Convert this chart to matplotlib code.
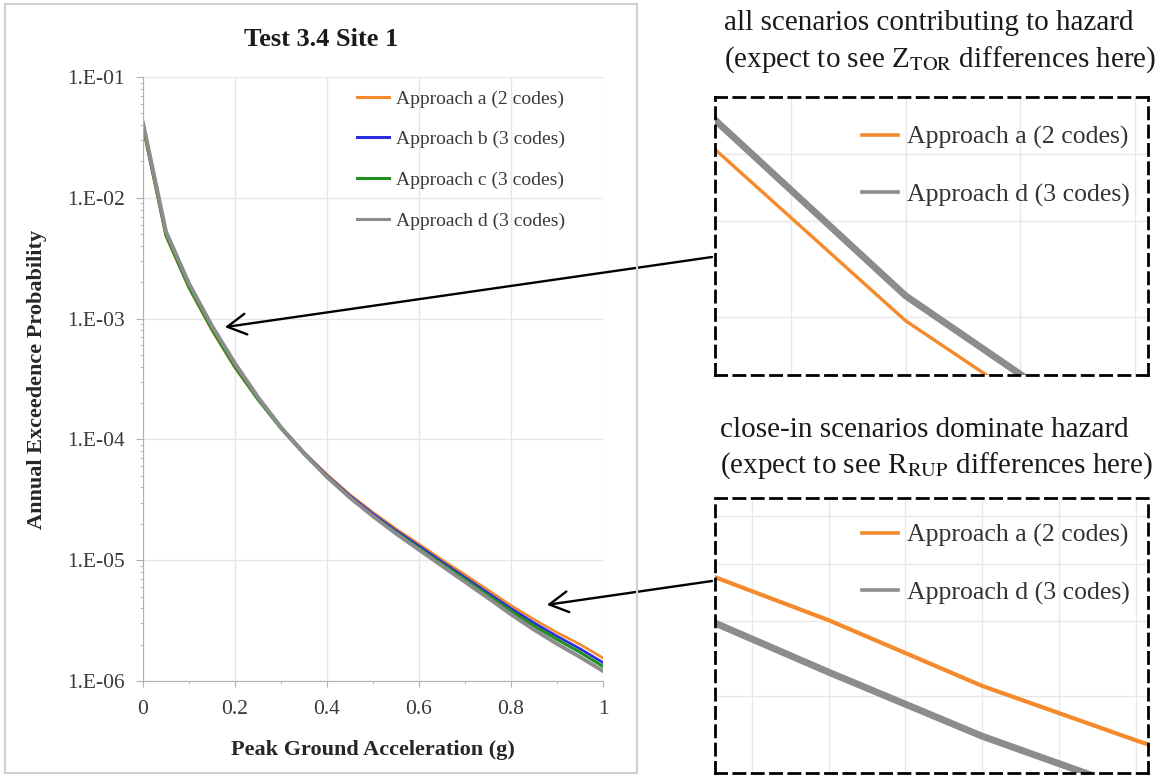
import matplotlib.pyplot as plt
import numpy as np
from matplotlib.patches import Rectangle
from matplotlib.ticker import LogLocator, MultipleLocator, NullFormatter

plt.rcParams['font.family'] = 'Liberation Serif'
plt.rcParams['mathtext.fontset'] = 'stix'

# hazard curves for Test 3.4 Site 1
pga = [0.0, 0.05, 0.1, 0.15, 0.2, 0.25, 0.3, 0.35, 0.4, 0.45, 0.5,
       0.55, 0.6, 0.65, 0.7, 0.75, 0.8, 0.85, 0.9, 0.95, 1.0]
approach_a = [3.80e-2, 4.78e-3, 1.78e-3, 7.95e-4, 3.89e-4, 2.14e-4, 1.26e-4,
              7.85e-5, 5.13e-5, 3.49e-5, 2.49e-5, 1.82e-5, 1.36e-5, 1.01e-5,
              7.59e-6, 5.66e-6, 4.22e-6, 3.23e-6, 2.52e-6, 2.01e-6, 1.55e-6]
approach_b = [3.94e-2, 4.96e-3, 1.84e-3, 8.23e-4, 4.03e-4, 2.17e-4, 1.26e-4,
              7.78e-5, 5.03e-5, 3.41e-5, 2.42e-5, 1.76e-5, 1.31e-5, 9.70e-6,
              7.21e-6, 5.36e-6, 3.99e-6, 3.03e-6, 2.35e-6, 1.85e-6, 1.42e-6]
approach_c = [3.89e-2, 4.89e-3, 1.82e-3, 8.13e-4, 3.98e-4, 2.14e-4, 1.23e-4,
              7.58e-5, 4.89e-5, 3.31e-5, 2.34e-5, 1.70e-5, 1.26e-5, 9.33e-6,
              6.92e-6, 5.13e-6, 3.80e-6, 2.86e-6, 2.21e-6, 1.73e-6, 1.32e-6]
approach_d = [4.17e-2, 5.25e-3, 1.95e-3, 8.71e-4, 4.26e-4, 2.24e-4, 1.26e-4,
              7.67e-5, 4.89e-5, 3.29e-5, 2.31e-5, 1.66e-5, 1.22e-5, 8.98e-6,
              6.61e-6, 4.87e-6, 3.56e-6, 2.66e-6, 2.03e-6, 1.58e-6, 1.21e-6]
labels = ['Approach a (2 codes)', 'Approach b (3 codes)',
          'Approach c (3 codes)', 'Approach d (3 codes)']
colors = ['#f58a2c', '#2b2be0', '#1f8f1f', '#8c8c8c']
widths = [1.9, 1.9, 2.2, 2.8]

y_ticks = [1e-6, 1e-5, 1e-4, 1e-3, 1e-2, 1e-1]
y_tick_labels = ['1.E-06', '1.E-05', '1.E-04', '1.E-03', '1.E-02', '1.E-01']
x_ticks = [0, 0.2, 0.4, 0.6, 0.8, 1.0]
x_tick_labels = ['0', '0.2', '0.4', '0.6', '0.8', '1']

# close-up of the upper part of the curves
top_pga = [0.15, 0.2, 0.25]
top_a = [9.46e-4, 3.93e-4, 2.04e-4]
top_d = [1.076e-3, 4.37e-4, 2.24e-4]
top_xgrid = [0.175, 0.2, 0.225, 0.25]
top_ygrid = [4e-4, 6e-4, 8e-4]

# close-up of the tail
tail_pga = [0.75, 0.8, 0.85, 0.9, 0.95]
tail_a = [5.03e-6, 4.02e-6, 3.12e-6, 2.53e-6, 2.08e-6]
tail_d = [4.25e-6, 3.29e-6, 2.57e-6, 2.08e-6, 1.70e-6]
tail_xgrid = [0.775, 0.8, 0.825, 0.85, 0.875, 0.9]
tail_ygrid = [3e-6, 4e-6, 5e-6, 6e-6]

W, H = 1159, 776
fig = plt.figure(figsize=(W / 100, H / 100), dpi=100)


def fx(px):
    return px / W


def fy(py):
    return 1 - py / H


# chart border
fig.add_artist(Rectangle((fx(5), fy(773)), fx(632), 769 / H,
                         transform=fig.transFigure, fill=False,
                         ec='#d0d0d0', lw=1.5))

ax = fig.add_axes([fx(143), fy(681), fx(460), 604 / H])
for vals, lab, col, lw in zip([approach_a, approach_b, approach_c, approach_d],
                              labels, colors, widths):
    ax.plot(pga, vals, color=col, lw=lw, label=lab)

ax.set_yscale('log')
ax.set_xlim(0, 1)
ax.set_ylim(1e-6, 1e-1)
ax.set_yticks(y_ticks)
ax.set_yticklabels(y_tick_labels)
ax.set_xticks(x_ticks)
ax.set_xticklabels(x_tick_labels)
ax.yaxis.set_minor_locator(LogLocator(base=10, subs=np.arange(2, 10), numticks=20))
ax.yaxis.set_minor_formatter(NullFormatter())
ax.xaxis.set_minor_locator(MultipleLocator(0.1))
ax.tick_params(which='both', direction='out', color='#b0b0b0',
               labelsize=15.5, labelcolor='#3a3a3a')
ax.tick_params(axis='y', which='major', length=5, pad=8)
ax.tick_params(axis='y', which='minor', length=2.5)
ax.tick_params(axis='x', which='major', length=4, pad=10)
ax.tick_params(axis='x', which='minor', length=2.5)
ax.grid(True, which='major', color='#e6e6e6', lw=1)
ax.set_axisbelow(True)
for side in ['top', 'right']:
    ax.spines[side].set_visible(False)
for side in ['left', 'bottom']:
    ax.spines[side].set_color('#b0b0b0')

leg = ax.legend(loc='upper left', bbox_to_anchor=(fx(357), fy(90)),
                bbox_transform=fig.transFigure, frameon=False, fontsize=14,
                handlelength=1.65, handletextpad=0.35, labelspacing=1.18,
                borderpad=0, borderaxespad=0)
for t in leg.get_texts():
    t.set_color('#3a3a3a')
for ln in leg.get_lines():
    ln.set_linewidth(2.2)

fig.text(fx(321), fy(40), 'Test 3.4 Site 1', ha='center', va='center',
         fontsize=19, fontweight='bold', color='#1a1a1a')
fig.text(fx(373), fy(750), 'Peak Ground Acceleration (g)', ha='center',
         va='center', fontsize=16, fontweight='bold', color='#262626')
fig.text(fx(37), fy(379), 'Annual Exceedence Probability', ha='center',
         va='center', rotation=90, fontsize=16, fontweight='bold',
         color='#262626')


def zoom_panel(rect, x, a, d, xlim, ylim, xgrid, ygrid, lw_a, lw_d, leg_top):
    zax = fig.add_axes(rect)
    zax.plot(x, a, color=colors[0], lw=lw_a, label=labels[0])
    zax.plot(x, d, color=colors[3], lw=lw_d, label=labels[3])
    zax.set_yscale('log')
    zax.set_xlim(*xlim)
    zax.set_ylim(*ylim)
    zax.set_xticks(xgrid)
    zax.set_yticks(ygrid)
    zax.yaxis.set_minor_locator(plt.NullLocator())
    zax.tick_params(which='both', length=0, labelleft=False, labelbottom=False)
    zax.grid(True, color='#e8e8e8', lw=1)
    zax.set_axisbelow(True)
    for s in zax.spines.values():
        s.set_linestyle((0, (4, 2.6)))
        s.set_linewidth(2)
        s.set_color('black')
    zleg = zax.legend(loc='upper left', bbox_to_anchor=(fx(862), fy(leg_top)),
                      bbox_transform=fig.transFigure, frameon=False,
                      fontsize=18.5, handlelength=1.4, handletextpad=0.35,
                      labelspacing=1.32, borderpad=0, borderaxespad=0)
    for t in zleg.get_texts():
        t.set_color('#333333')
    for ln in zleg.get_lines():
        ln.set_linewidth(2.6)
    return zax


zoom_panel([fx(715), fy(375), fx(433), 278 / H], top_pga, top_a, top_d,
           (0.1585, 0.2528), (3.12e-4, 1.018e-3), top_xgrid, top_ygrid,
           2.4, 5.0, 126)
zoom_panel([fx(715), fy(773), fx(433), 275 / H], tail_pga, tail_a, tail_d,
           (0.763, 0.904), (2.23e-6, 6.44e-6), tail_xgrid, tail_ygrid,
           3.0, 5.0, 524)

fig.text(fx(724), fy(23), 'all scenarios contributing to hazard',
         ha='left', va='center', fontsize=21, color='#1a1a1a')
fig.text(fx(724), fy(60), r'(expect to see Z$_{\mathrm{TOR}}$ differences here)',
         ha='left', va='center', fontsize=21, color='#1a1a1a')
fig.text(fx(720), fy(430), 'close-in scenarios dominate hazard',
         ha='left', va='center', fontsize=21, color='#1a1a1a')
fig.text(fx(720), fy(466), r'(expect to see R$_{\mathrm{RUP}}$ differences here)',
         ha='left', va='center', fontsize=21, color='#1a1a1a')

# arrows from the close-ups back to the curves
arrow = dict(arrowstyle='->,head_length=0.9,head_width=0.5', lw=1.7,
             color='black', mutation_scale=15, shrinkA=0, shrinkB=0)
ax.annotate('', xy=(0.178, 8.5e-4), xytext=(fx(712), fy(257)),
            textcoords='figure fraction', arrowprops=arrow,
            annotation_clip=False)
ax.annotate('', xy=(0.878, 4.27e-6), xytext=(fx(712), fy(581)),
            textcoords='figure fraction', arrowprops=arrow,
            annotation_clip=False)

fig.savefig('out.png', dpi=100)
